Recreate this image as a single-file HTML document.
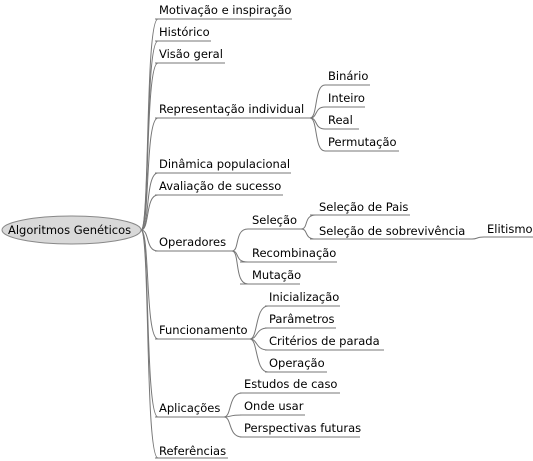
<!DOCTYPE html>
<html><head><meta charset="utf-8"><style>
html,body{margin:0;padding:0;background:#fff;}
svg{display:block;}
text{font-family:"DejaVu Sans","Liberation Sans",sans-serif;font-size:11.5px;fill:#000;}
</style></head><body>
<svg width="533" height="461" viewBox="0 0 533 461" xmlns="http://www.w3.org/2000/svg">
<g fill="none" stroke="#777" stroke-width="1">
<!-- root connectors -->
<path d="M141,230 C150,230 145,19 158,19"/>
<path d="M141,230 C150,230 145,41 158,41"/>
<path d="M141,230 C150,230 145,63 158,63"/>
<path d="M141,230 C150,230 145,118 158,118"/>
<path d="M141,230 C150,230 145,173 158,173"/>
<path d="M141,230 C150,230 145,195 158,195"/>
<path d="M141,230 C150,230 145,251 158,251"/>
<path d="M141,230 C150,230 145,339 158,339"/>
<path d="M141,230 C150,230 145,417 158,417"/>
<path d="M141,230 C150,230 145,458 158,458"/>
<!-- underlines level1 -->
<path d="M155,19H292M155,41H211M155,63H225M155,118H310M155,173H291M155,195H283M155,251H232M155,339H250M155,417H224M155,458H228"/>
<!-- Representação children -->
<path d="M310,118 C318,118 314,85 325,85"/>
<path d="M310,118 C318,118 314,107 325,107"/>
<path d="M310,118 C318,118 314,129 325,129"/>
<path d="M310,118 C318,118 314,151 325,151"/>
<path d="M325,85H370M325,107H365M325,129H359M325,151H399"/>
<!-- Operadores children -->
<path d="M232,251 C240,251 234,229 248,229"/>
<path d="M232,251 C240,251 234,262 248,262"/>
<path d="M232,251 C240,251 234,284 248,284"/>
<path d="M248,229H301M240,262H337M240,284H300"/>
<!-- Seleção children -->
<path d="M301,229 C309,229 303,215 316,215"/>
<path d="M301,229 C309,229 303,239 316,239"/>
<path d="M310,215H410M310,239H472"/>
<path d="M472,239 C478,239 476,237 484,237H533"/>
<!-- Funcionamento children -->
<path d="M250,339 C258,339 255,306 268,306"/>
<path d="M250,339 C258,339 255,328 268,328"/>
<path d="M250,339 C258,339 255,350 268,350"/>
<path d="M250,339 C258,339 255,372 268,372"/>
<path d="M265,306H340M265,328H336M265,350H384M265,372H327"/>
<!-- Aplicações children -->
<path d="M224,417 C232,417 228,393 242,393"/>
<path d="M224,417 C232,417 228,415 242,415"/>
<path d="M224,417 C232,417 228,437 242,437"/>
<path d="M240,393H340M240,415H305M240,437H360"/>
</g>
<ellipse cx="71.5" cy="230" rx="69.5" ry="14" fill="#d9d9d9" stroke="#888"/>
<text x="8" y="234">Algoritmos Genéticos</text>
<text x="159" y="14">Motivação e inspiração</text>
<text x="159" y="36">Histórico</text>
<text x="159" y="58">Visão geral</text>
<text x="159" y="113">Representação individual</text>
<text x="159" y="168">Dinâmica populacional</text>
<text x="159" y="190">Avaliação de sucesso</text>
<text x="159" y="246">Operadores</text>
<text x="159" y="334">Funcionamento</text>
<text x="159" y="412">Aplicações</text>
<text x="159" y="455">Referências</text>
<text x="328" y="80">Binário</text>
<text x="328" y="102">Inteiro</text>
<text x="328" y="124">Real</text>
<text x="328" y="146">Permutação</text>
<text x="252" y="224">Seleção</text>
<text x="252" y="257">Recombinação</text>
<text x="252" y="279">Mutação</text>
<text x="319" y="211">Seleção de Pais</text>
<text x="319" y="235">Seleção de sobrevivência</text>
<text x="487" y="233">Elitismo</text>
<text x="269" y="301">Inicialização</text>
<text x="269" y="323">Parâmetros</text>
<text x="269" y="345">Critérios de parada</text>
<text x="269" y="367">Operação</text>
<text x="244" y="388">Estudos de caso</text>
<text x="244" y="410">Onde usar</text>
<text x="244" y="432">Perspectivas futuras</text>
</svg>
</body></html>
